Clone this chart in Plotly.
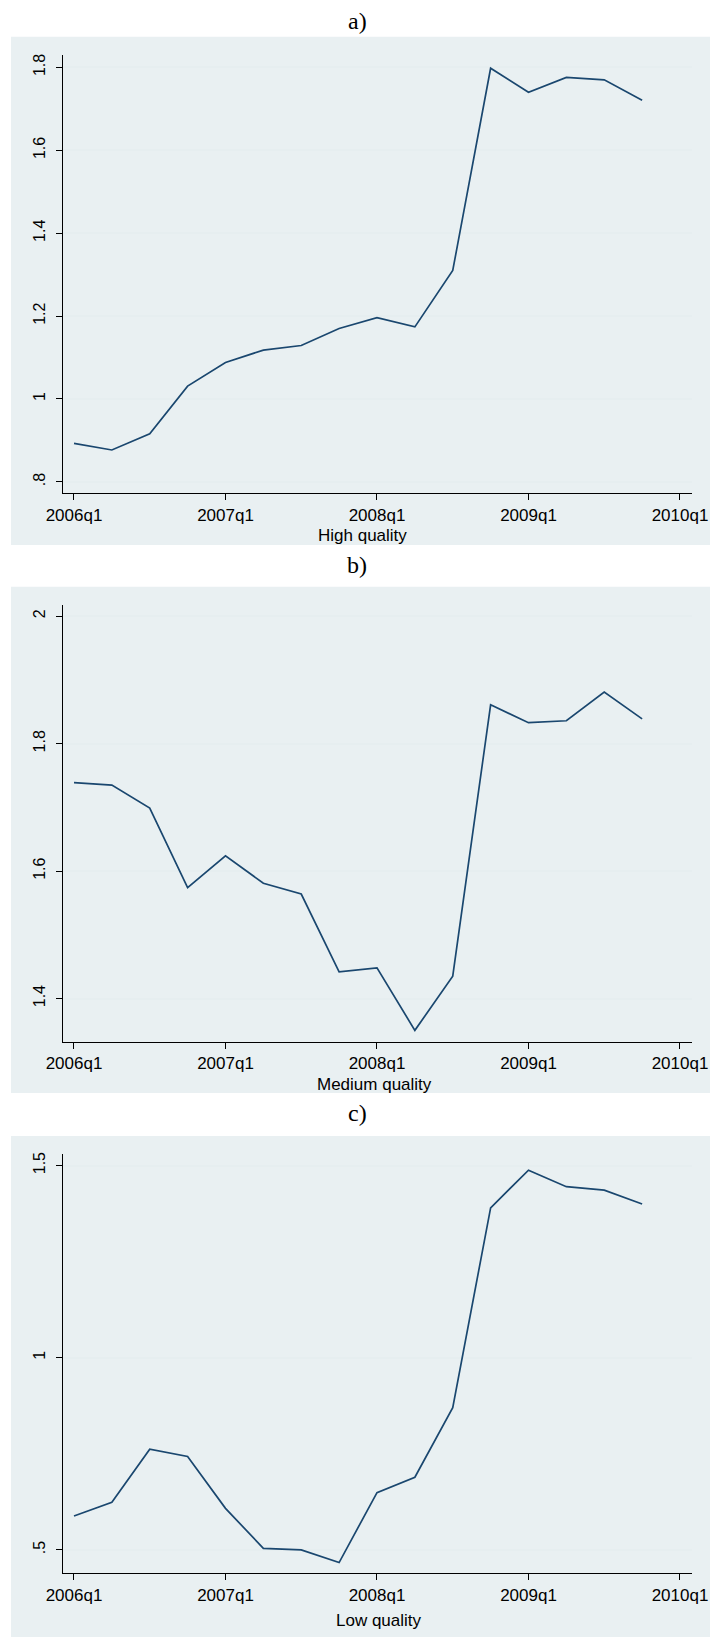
import plotly.graph_objects as go

W, H = 710, 1637

quarters = ["2006q1", "2006q2", "2006q3", "2006q4", "2007q1", "2007q2", "2007q3", "2007q4",
            "2008q1", "2008q2", "2008q3", "2008q4", "2009q1", "2009q2", "2009q3", "2009q4"]
x_tick_labels = ["2006q1", "2007q1", "2008q1", "2009q1", "2010q1"]
x_tick_vals = [0, 4, 8, 12, 16]

high_quality = [0.893, 0.877, 0.916, 1.031, 1.088, 1.118, 1.129, 1.170,
                1.196, 1.174, 1.310, 1.798, 1.740, 1.776, 1.770, 1.721]
medium_quality = [1.739, 1.735, 1.699, 1.574, 1.624, 1.581, 1.564, 1.442,
                  1.448, 1.350, 1.435, 1.861, 1.833, 1.836, 1.881, 1.839]
low_quality = [0.588, 0.624, 0.762, 0.743, 0.608, 0.504, 0.500, 0.467,
               0.649, 0.689, 0.870, 1.390, 1.488, 1.445, 1.436, 1.400]

high_ticks = [0.8, 1.0, 1.2, 1.4, 1.6, 1.8]
high_tick_text = [".8", "1", "1.2", "1.4", "1.6", "1.8"]
medium_ticks = [1.4, 1.6, 1.8, 2.0]
medium_tick_text = ["1.4", "1.6", "1.8", "2"]
low_ticks = [0.5, 1.0, 1.5]
low_tick_text = [".5", "1", "1.5"]

panel_letters = ["a)", "b)", "c)"]
axis_titles = ["High quality", "Medium quality", "Low quality"]

x_idx = list(range(len(quarters)))

LINE = "#1a476f"
BG = "#e9f0f2"
GRID = "#e6eef0"
FONT = "Liberation Sans, Arial, sans-serif"
SERIF = "Liberation Serif, Times New Roman, serif"


def py(px):
    return 1 - px / H


panels = [
    (36.7, 545, 55, 493, [0.7732, 1.8299], 21, 535, 362),
    (586.7, 1093, 605, 1041.7, [1.3322, 2.0177], 565, 1084, 374),
    (1136, 1637, 1154, 1573, [0.4398, 1.530], 1113, 1620, 379),
]
series = [high_quality, medium_quality, low_quality]
yticks = [(high_ticks, high_tick_text), (medium_ticks, medium_tick_text), (low_ticks, low_tick_text)]

plot_left, plot_right = 62.7, 692
xrange_ = [-0.298, 16.317]

fig = go.Figure()
layout = dict(
    width=W, height=H,
    autosize=False,
    margin=dict(l=0, r=0, t=0, b=0, pad=0),
    paper_bgcolor="white",
    plot_bgcolor="white",
    showlegend=False,
    font=dict(family=FONT, color="black"),
    shapes=[], annotations=[],
)

for i, (bg_t, bg_b, p_t, p_b, yr, let_y, tit_y, tit_x) in enumerate(panels):
    n = "" if i == 0 else str(i + 1)
    fig.add_trace(go.Scatter(
        x=x_idx, y=series[i], mode="lines",
        line=dict(color=LINE, width=1.7),
        xaxis="x" + n, yaxis="y" + n,
        hoverinfo="skip",
    ))
    layout["xaxis" + n] = dict(
        domain=[plot_left / W, plot_right / W],
        range=xrange_, anchor="y" + n,
        automargin=False,
        tickmode="array", tickvals=x_tick_vals, ticktext=x_tick_labels,
        ticks="outside", ticklen=6, tickwidth=1.2, tickcolor="black",
        showline=True, linecolor="black", linewidth=1.3,
        showgrid=False, zeroline=False,
        tickfont=dict(family=FONT, size=17, color="black"),
        fixedrange=True,
    )
    layout["yaxis" + n] = dict(
        domain=[py(p_b), py(p_t)],
        range=yr, anchor="x" + n,
        automargin=False,
        tickmode="array", tickvals=yticks[i][0], ticktext=yticks[i][1],
        tickangle=-90,
        ticks="outside", ticklen=6, tickwidth=1.2, tickcolor="black",
        ticklabelstandoff=4,
        showline=True, linecolor="black", linewidth=1.3,
        showgrid=True, gridcolor=GRID, gridwidth=1.5,
        zeroline=False,
        tickfont=dict(family=FONT, size=16, color="black"),
        fixedrange=True,
    )
    layout["shapes"].append(dict(
        type="rect", xref="paper", yref="paper", layer="below",
        x0=11 / W, x1=1.0, y0=py(bg_b), y1=py(bg_t),
        fillcolor=BG, line=dict(width=0),
    ))
    layout["annotations"].append(dict(
        text=panel_letters[i], xref="paper", yref="paper",
        x=357 / W, y=py(let_y), xanchor="center", yanchor="middle",
        showarrow=False, font=dict(family=SERIF, size=24, color="black"),
    ))
    layout["annotations"].append(dict(
        text=axis_titles[i], xref="paper", yref="paper",
        x=tit_x / W, y=py(tit_y), xanchor="center", yanchor="middle",
        showarrow=False, font=dict(family=FONT, size=17, color="black"),
    ))

fig.update_layout(**layout)
fig.write_html(
    "out.html",
    config={"responsive": False, "displayModeBar": False},
    post_script="document.body.style.margin='0';document.body.style.padding='0';document.documentElement.style.overflow='hidden';",
)
